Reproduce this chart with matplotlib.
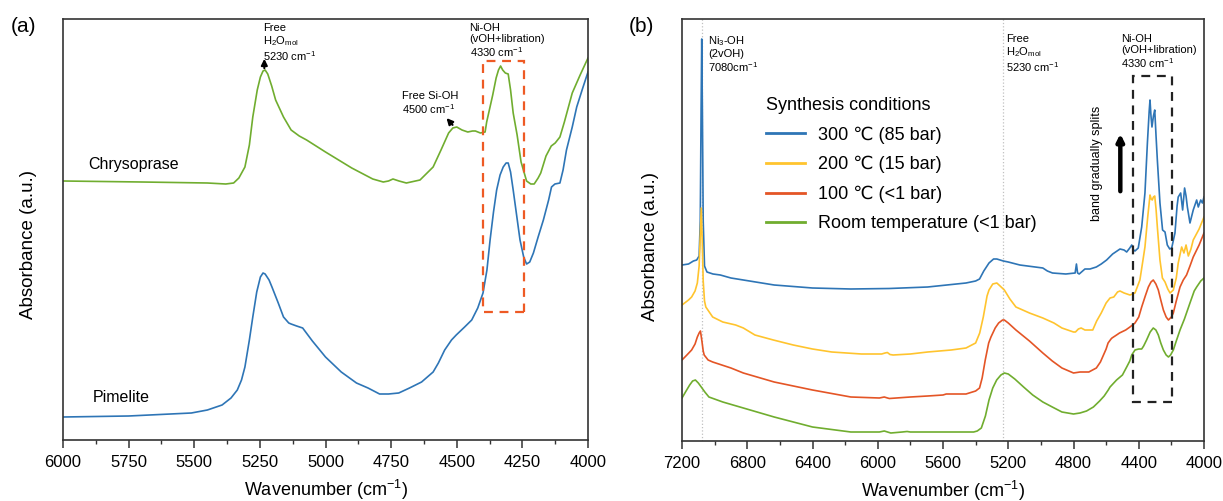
import matplotlib
matplotlib.use("Agg")
import matplotlib.pyplot as plt
from matplotlib.patches import Rectangle
from matplotlib.ticker import MultipleLocator

plt.rcParams['font.family'] = ['Liberation Sans', 'DejaVu Sans']
plt.rcParams['mathtext.fontset'] = 'custom'
plt.rcParams['mathtext.rm'] = 'Liberation Sans'
plt.rcParams['mathtext.it'] = 'Liberation Sans:italic'
plt.rcParams['mathtext.bf'] = 'Liberation Sans:bold'

# ---------------- Panel (a) data ----------------
chry_wn = [6000, 5700, 5450, 5380, 5350, 5330, 5307, 5290, 5277, 5260, 5248, 5238, 5230, 5220,
           5205, 5190, 5160, 5131, 5100, 5072, 5000, 4900, 4820, 4780, 4760, 4743, 4720, 4692,
           4640, 4590, 4560, 4531, 4515, 4500, 4480, 4458, 4440, 4429, 4410, 4392, 4386, 4363,
           4350, 4341, 4333, 4325, 4315, 4304, 4295, 4285, 4270, 4255, 4234, 4218, 4205, 4190,
           4180, 4160, 4140, 4125, 4107, 4090, 4060, 4030, 4000]
chry_abs = [259, 258, 257, 256, 257, 262, 273, 295, 323, 350, 363, 369, 370, 366,
            354, 340, 323, 310, 304, 300, 288, 272, 261, 258, 259, 261, 259, 257,
            260, 273, 290, 307, 312, 313, 310, 308, 309, 309, 307, 308, 318, 345,
            362, 370, 374, 370, 367, 366, 350, 327, 305, 278, 259, 256, 256, 262,
            267, 284, 294, 297, 303, 318, 347, 365, 382]

pim_wn = [6000, 5750, 5511, 5450, 5394, 5360, 5336, 5320, 5307, 5290, 5277, 5262, 5248, 5238,
          5230, 5215, 5204, 5180, 5160, 5140, 5131, 5110, 5087, 5050, 5000, 4940, 4882, 4838,
          4794, 4760, 4721, 4680, 4634, 4590, 4570, 4546, 4520, 4502, 4470, 4443, 4420, 4400,
          4385, 4373, 4360, 4348, 4335, 4323, 4312, 4304, 4295, 4285, 4272, 4259, 4245, 4234,
          4222, 4208, 4190, 4170, 4150, 4139, 4126, 4107, 4095, 4082, 4060, 4043, 4020, 4000]
pim_abs = [23, 24, 27, 30, 35, 42, 50, 60, 73, 100, 123, 148, 163, 167,
           166, 160, 153, 137, 123, 117, 116, 114, 112, 99, 83, 68, 57, 52,
           46, 46, 47, 52, 58, 68, 77, 90, 100, 105, 113, 120, 132, 147,
           170, 200, 228, 250, 265, 273, 277, 277, 268, 250, 225, 200, 183, 176,
           178, 187, 203, 220, 240, 253, 256, 257, 270, 290, 313, 333, 352, 368]

# ---------------- Panel (b) data ----------------
b300_wn = [7200, 7160, 7130, 7110, 7095, 7088, 7083, 7079, 7075, 7070, 7062, 7047, 7010, 6965,
           6900, 6824, 6635, 6400, 6165, 5929, 5694, 5459, 5400, 5376, 5350, 5318, 5290, 5270,
           5230, 5200, 5129, 5035, 4988, 4960, 4929, 4847, 4790, 4782, 4775, 4765, 4730, 4699,
           4660, 4630, 4597, 4560, 4515, 4490, 4474, 4455, 4443, 4432, 4423, 4403, 4382, 4362,
           4347, 4336, 4331, 4325, 4319, 4310, 4302, 4294, 4286, 4270, 4254, 4239, 4225, 4210,
           4198, 4178, 4165, 4158, 4143, 4131, 4119, 4110, 4102, 4086, 4066, 4045, 4035, 4020,
           4010, 4000]
b300_abs = [176, 177, 180, 181, 185, 220, 330, 402, 330, 220, 175, 169, 167, 166,
            163, 161, 156, 153, 152, 152.5, 154, 158, 160, 162, 170, 178, 182, 182,
            180, 179, 176, 174, 173, 170, 168, 167, 168, 177, 168, 167, 172, 172,
            174, 177, 181, 187, 192, 191, 189, 193, 196, 191, 190, 193, 214, 248,
            298, 330, 341, 325, 314, 325, 331, 305, 281, 238, 211, 209, 196, 192,
            193, 208, 235, 244, 248, 231, 253, 245, 234, 218, 231, 241, 234, 241,
            238, 244]

b200_wn = [7200, 7160, 7141, 7120, 7106, 7095, 7088, 7082, 7076, 7070, 7062, 7054, 7012, 6950,
           6871, 6824, 6753, 6640, 6518, 6400, 6282, 6100, 5976, 5955, 5941, 5925, 5906, 5800,
           5694, 5550, 5459, 5400, 5375, 5353, 5330, 5318, 5295, 5270, 5250, 5224, 5190, 5153,
           5070, 4988, 4920, 4871, 4800, 4788, 4770, 4753, 4730, 4682, 4658, 4630, 4600, 4576,
           4553, 4530, 4515, 4490, 4454, 4423, 4393, 4375, 4362, 4345, 4331, 4324, 4317, 4310,
           4302, 4294, 4286, 4270, 4255, 4239, 4222, 4208, 4188, 4170, 4158, 4137, 4123, 4110,
           4096, 4080, 4066, 4030, 4000]
b200_abs = [136, 141, 144, 150, 158, 175, 205, 233, 200, 160, 140, 134, 124, 119,
            116, 113, 106, 101, 96, 92, 89, 87, 87, 88, 88.5, 86.5, 86, 87,
            89, 91, 93, 98, 108, 124, 145, 151, 157, 158, 155, 151, 142, 134,
            128, 123, 118, 113, 109, 109, 112, 113, 111, 111, 120, 128, 138, 143,
            144, 149, 150, 148, 146, 148, 161, 180, 194, 224, 246, 242, 241, 244,
            245, 232, 214, 181, 163, 159, 152, 148, 151, 163, 178, 194, 188, 196,
            185, 192, 201, 212, 224]

b100_wn = [7200, 7170, 7141, 7120, 7106, 7095, 7087, 7078, 7070, 7064, 7040, 7012, 6900, 6824,
           6635, 6400, 6165, 5990, 5960, 5940, 5929, 5800, 5694, 5600, 5580, 5459, 5400, 5376,
           5360, 5341, 5320, 5306, 5280, 5259, 5235, 5224, 5200, 5153, 5070, 4988, 4930, 4871,
           4800, 4760, 4706, 4660, 4635, 4600, 4588, 4570, 4564, 4536, 4518, 4480, 4454, 4423,
           4400, 4382, 4360, 4341, 4325, 4311, 4295, 4280, 4265, 4249, 4232, 4218, 4200, 4188,
           4170, 4147, 4127, 4107, 4086, 4066, 4030, 4000]
b100_abs = [81, 86, 91, 97, 104, 108, 110, 100, 90, 86, 81, 79, 73, 68,
            59, 51, 44, 43, 44, 43, 42.5, 44, 45, 46, 47, 47, 50, 53,
            63, 81, 98, 104, 113, 118, 121, 121, 118, 111, 100, 88, 80, 73,
            68, 69, 69, 73, 79, 92, 98, 102, 103, 106, 108, 111, 114, 118,
            124, 134, 145, 154, 159, 161, 157, 151, 141, 131, 124, 121, 124, 128,
            140, 154, 161, 166, 175, 184, 196, 208]

brt_wn = [7200, 7175, 7153, 7135, 7118, 7100, 7082, 7060, 7035, 6950, 6824, 6635, 6400, 6165,
          5990, 5960, 5940, 5920, 5850, 5820, 5800, 5694, 5500, 5412, 5390, 5365, 5340, 5318,
          5295, 5271, 5245, 5224, 5200, 5160, 5106, 5050, 4988, 4930, 4871, 4800, 4760, 4720,
          4678, 4640, 4612, 4587, 4576, 4536, 4500, 4474, 4455, 4443, 4423, 4400, 4382, 4370,
          4352, 4330, 4311, 4295, 4280, 4265, 4249, 4232, 4218, 4205, 4188, 4170, 4147, 4120,
          4086, 4060, 4045, 4020, 4000]
brt_abs = [43, 50, 56, 60, 61, 58, 54, 49, 44, 39, 33, 24, 14, 9,
           9, 10, 9, 8, 9, 9.5, 9, 9, 9, 9, 10, 13, 25, 41,
           53, 61, 66, 68, 67, 62, 54, 46, 39, 34, 29, 27, 28, 30,
           34, 40, 45, 51, 54, 61, 66, 74, 80, 86, 91, 92, 92, 95,
           101, 109, 113, 111, 106, 98, 91, 86, 84, 86, 91, 100, 111, 122,
           138, 150, 154, 160, 163]

legend_labels = ['300 \u2103 (85 bar)', '200 \u2103 (15 bar)', '100 \u2103 (<1 bar)',
                 'Room temperature (<1 bar)']

BLUE = '#2E75B6'
YELLOW = '#FFC42E'
RED = '#E45526'
GREEN = '#70AD2F'
SPINE = '#333333'

fig = plt.figure(figsize=(12.23, 5.01), dpi=100)
axa = fig.add_axes([63/1223, 61/501, 525/1223, 421/501])
axb = fig.add_axes([682/1223, 60/501, 522/1223, 422/501])

for ax in (axa, axb):
    for s in ax.spines.values():
        s.set_color(SPINE)
        s.set_linewidth(1.2)
    ax.tick_params(axis='x', which='major', direction='out', length=5.5, width=1.1,
                   color=SPINE, labelsize=12, pad=5)
    ax.tick_params(axis='x', which='minor', direction='out', length=3.2, width=1.0, color=SPINE)
    ax.set_yticks([])
    ax.set_xlabel('Wavenumber (cm$^{-1}$)', fontsize=13, labelpad=6)
    ax.set_ylabel('Absorbance (a.u.)', fontsize=13.5)

# ---- panel (a)
axa.plot(chry_wn, chry_abs, color=GREEN, lw=1.2)
axa.plot(pim_wn, pim_abs, color=BLUE, lw=1.2)
axa.set_xlim(6000, 4000)
axa.set_ylim(0, 421)
axa.xaxis.set_major_locator(MultipleLocator(250))
axa.xaxis.set_minor_locator(MultipleLocator(125))
axa.yaxis.set_label_coords(-0.05, 0.465)
axa.add_patch(Rectangle((4244, 128), 4399 - 4244, 379 - 128, fill=False,
                        edgecolor='#EE5A24', lw=1.6, ls=(0, (4, 3)), zorder=3))
small = 8
axa.text(5238, 417, 'Free\nH$_2$O$_{\\mathregular{mol}}$\n5230 cm$^{-1}$', fontsize=small,
         ha='left', va='top', linespacing=1.1)
axa.text(4451, 417, 'Ni-OH\n(vOH+libration)\n4330 cm$^{-1}$', fontsize=small,
         ha='left', va='top', linespacing=1.1)
axa.text(4710, 349, 'Free Si-OH\n4500 cm$^{-1}$', fontsize=small, ha='left', va='top',
         linespacing=1.1)
axa.annotate('', xy=(5233, 384), xytext=(5233, 369),
             arrowprops=dict(arrowstyle='-|>', color='black', lw=1.5, mutation_scale=9))
axa.annotate('', xy=(4546, 324), xytext=(4509, 313),
             arrowprops=dict(arrowstyle='-|>', color='black', lw=1.5, mutation_scale=9))
axa.text(5905, 275, 'Chrysoprase', fontsize=11.5, ha='left', va='center')
axa.text(5886, 42, 'Pimelite', fontsize=11.5, ha='left', va='center')

# ---- panel (b)
axb.axvline(7080, color='#c0c0c0', ls=':', lw=0.9, zorder=0)
axb.axvline(5230, color='#c0c0c0', ls=':', lw=0.9, zorder=0)
lines = []
for wn, ab, c in ((b300_wn, b300_abs, BLUE), (b200_wn, b200_abs, YELLOW),
                  (b100_wn, b100_abs, RED), (brt_wn, brt_abs, GREEN)):
    ln, = axb.plot(wn, ab, color=c, lw=1.2)
    lines.append(ln)
axb.set_xlim(7200, 4000)
axb.set_ylim(0, 422)
axb.xaxis.set_major_locator(MultipleLocator(400))
axb.xaxis.set_minor_locator(MultipleLocator(200))
axb.yaxis.set_label_coords(-0.044, 0.46)
axb.add_patch(Rectangle((4194, 39), 4437 - 4194, 365 - 39, fill=False,
                        edgecolor='#222222', lw=1.6, ls=(0, (4, 3)), zorder=3))
axb.text(7041, 407, 'Ni$_3$-OH\n(2vOH)\n7080cm$^{-1}$', fontsize=small, ha='left', va='top',
         linespacing=1.1)
axb.text(5214, 407, 'Free\nH$_2$O$_{\\mathregular{mol}}$\n5230 cm$^{-1}$', fontsize=small,
         ha='left', va='top', linespacing=1.1)
axb.text(4509, 407, 'Ni-OH\n(vOH+libration)\n4330 cm$^{-1}$', fontsize=small,
         ha='left', va='top', linespacing=1.1)
axb.text(4655, 278, 'band gradually splits', fontsize=9, rotation=90,
         ha='center', va='center')
axb.annotate('', xy=(4513, 310), xytext=(4513, 247),
             arrowprops=dict(arrowstyle='-|>', color='black', lw=3.2, mutation_scale=10))
leg = axb.legend(lines, legend_labels, title='Synthesis conditions', fontsize=13,
                 title_fontsize=13, frameon=False, loc='upper left',
                 bbox_to_anchor=(0.16, 0.815), handlelength=2.2, handletextpad=0.7,
                 labelspacing=0.68, borderpad=0, borderaxespad=0)
leg._legend_box.align = 'left'
for h in leg.get_lines():
    h.set_linewidth(2.0)

fig.text(23/1223, 1 - 26/501, '(a)', fontsize=15, ha='center', va='center')
fig.text(641/1223, 1 - 26/501, '(b)', fontsize=15, ha='center', va='center')

fig.savefig('out.png', dpi=100)
